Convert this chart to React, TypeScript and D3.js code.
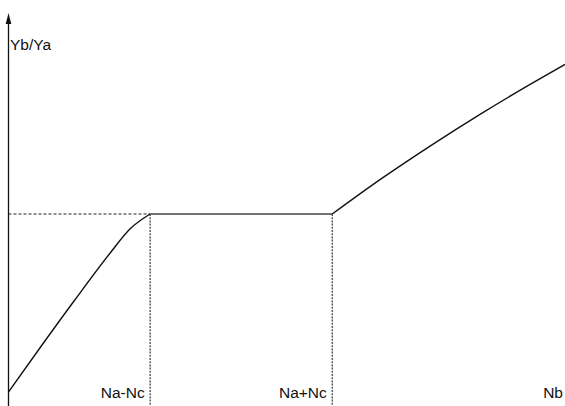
import React from "react";
import * as d3 from "d3";

// Ratio Yb/Ya as a function of Nb: rising branch, plateau, second rising branch
const risingX = [0, 0.62, 1.31, 2.01, 2.4, 2.8];
const risingY = [0.073, 0.302, 0.552, 0.797, 0.922, 1.0];
const plateauX = [2.8, 6.4];
const plateauY = [1.0, 1.0];
const upperX = [6.4, 7.35, 8.34, 9.32, 10.31, 11];
const upperY = [1.0, 1.18, 1.355, 1.519, 1.675, 1.779];

// Marked abscissae and their labels
const markX = [2.8, 6.4];
const markLabels = ["Na-Nc", "Na+Nc"];
const xAxisLabel = "Nb";
const yAxisLabel = "Yb/Ya";
const plateauLevel = 1.0;

const W = 565;
const H = 406;
const FONT = "'Liberation Sans', Arial, Helvetica, sans-serif";

export default function App() {
  const x = d3.scaleLinear().domain([0, 11]).range([8.5, 565]);
  const y = d3.scaleLinear().domain([0, 2]).range([406, 22]);

  const pts = (xs: number[], ys: number[]) => xs.map((v, i) => [v, ys[i]] as [number, number]);
  const smooth = d3
    .line<[number, number]>()
    .x((d) => x(d[0]))
    .y((d) => y(d[1]))
    .curve(d3.curveMonotoneX);
  const straight = d3
    .line<[number, number]>()
    .x((d) => x(d[0]))
    .y((d) => y(d[1]));

  const x0 = x(0);
  const arrowTip = 13;
  const arrowBase = 24;

  return (
    <svg
      width={W}
      height={H}
      style={{ position: "absolute", left: 0, top: 0, background: "#fff" }}
    >
      {/* vertical axis with arrowhead */}
      <line x1={x0} x2={x0} y1={arrowBase - 2} y2={H} stroke="#111" strokeWidth={1.3} />
      <path
        d={`M${x0},${arrowTip} L${x0 - 2.8},${arrowBase} L${x0 + 2.8},${arrowBase} Z`}
        fill="#111"
      />
      <text x={x0 + 1.5} y={50} fontFamily={FONT} fontSize={15.5} fill="#111">
        {yAxisLabel}
      </text>

      {/* guide from axis to plateau start */}
      <line
        x1={x0}
        x2={x(markX[0])}
        y1={y(plateauLevel)}
        y2={y(plateauLevel)}
        stroke="#222"
        strokeWidth={1}
        strokeDasharray="3,2"
      />
      {/* vertical guides at the marked abscissae */}
      {markX.map((m, i) => (
        <g key={i}>
          <line
            x1={x(m)}
            x2={x(m)}
            y1={y(plateauLevel)}
            y2={H}
            stroke="#444"
            strokeWidth={1.3}
            strokeDasharray="2,1.2"
          />
          <text
            x={x(m) - 5.5}
            y={397.5}
            textAnchor="end"
            fontFamily={FONT}
            fontSize={15.5}
            fill="#111"
          >
            {markLabels[i]}
          </text>
        </g>
      ))}
      <text x={563} y={397.5} textAnchor="end" fontFamily={FONT} fontSize={15.5} fill="#111">
        {xAxisLabel}
      </text>

      {/* curve */}
      <path d={smooth(pts(risingX, risingY)) ?? ""} fill="none" stroke="#111" strokeWidth={1.4} />
      <path d={straight(pts(plateauX, plateauY)) ?? ""} fill="none" stroke="#444" strokeWidth={1.6} />
      <path d={smooth(pts(upperX, upperY)) ?? ""} fill="none" stroke="#111" strokeWidth={1.4} />
    </svg>
  );
}
